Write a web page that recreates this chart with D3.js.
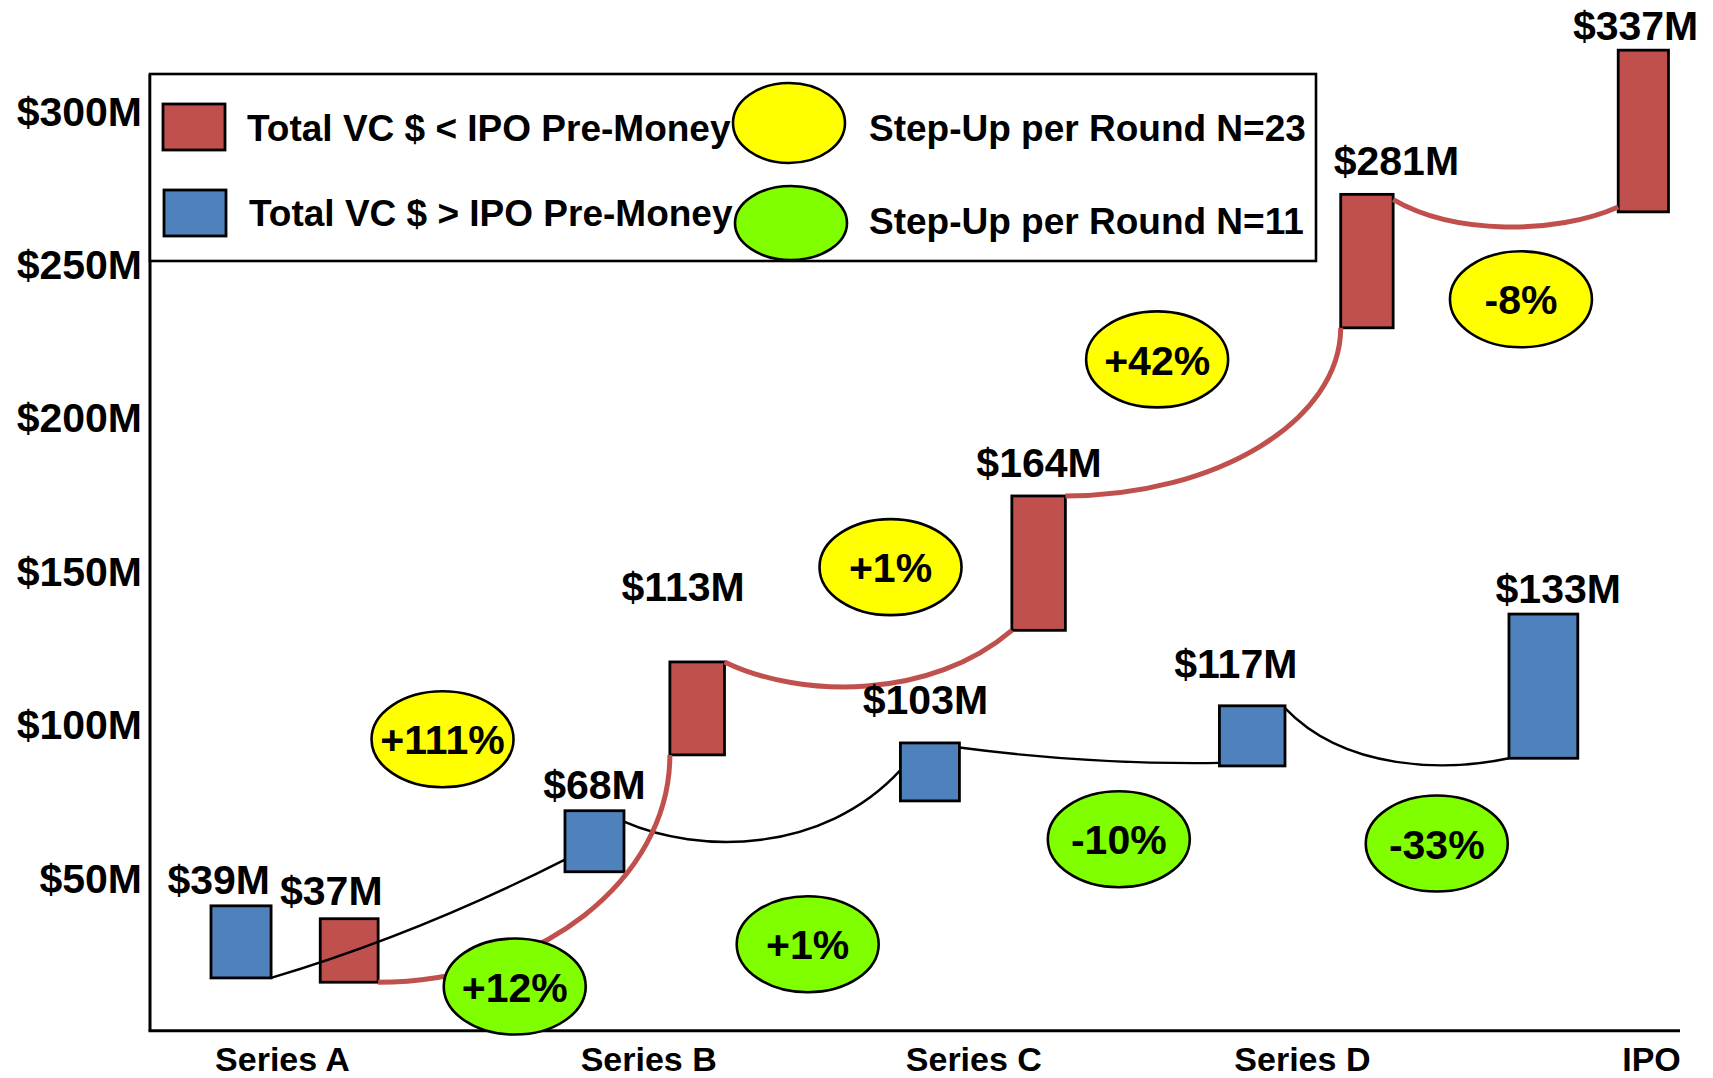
<!DOCTYPE html>
<html><head><meta charset="utf-8">
<script src="https://cdn.jsdelivr.net/npm/d3@7"></script>
<style>
html,body{margin:0;padding:0;background:#fff;}
svg{display:block;}
text{font-family:"Liberation Sans",Arial,Helvetica,sans-serif;font-weight:bold;fill:#000;}
</style>
</head><body>
<svg id="chart" width="1713" height="1078"></svg>
<script>
// ---------------- DATA ----------------
const categories = ["Series A", "Series B", "Series C", "Series D", "IPO"];
const categoryPos = [0, 1.07, 2.02, 2.98, 4];
const yTicks = [50, 100, 150, 200, 250, 300];

// Total VC $ > IPO Pre-Money (blue boxes), values in $M
const blueLabels = [39, 68, 103, 117, 133];
const blueLow    = [17.2, 51.8, 74.9, 86.3, 88.8];
const blueHigh   = [40.7, 71.7, 93.8, 105.9, 135.8];
const blueLeft   = [-0.2075, 0.8268, 1.8069, 2.7390, 3.5850];
const blueRight  = [-0.0319, 0.9992, 1.9793, 2.9306, 3.7861];
const blueLabelX = [-0.185, 0.913, 1.880, 2.787, 3.729];
const blueLabelY = [44.7, 75.6, 103.1, 114.9, 139.4];

// Total VC $ < IPO Pre-Money (red boxes)
const redLabels = [37, 113, 164, 281, 337];
const redLow    = [15.8, 89.9, 130.5, 229.1, 266.9];
const redHigh   = [36.5, 120.2, 174.3, 272.6, 319.6];
const redLeft   = [0.1117, 1.1333, 2.1325, 3.0934, 3.9042];
const redRight  = [0.2809, 1.2929, 2.2889, 3.2466, 4.0511];
const redLabelX = [0.144, 1.172, 2.212, 3.256, 3.955];
const redLabelY = [41.1, 139.9, 180.5, 279.0, 322.8];

// connectors between consecutive boxes
const blueFromFrac = [0, 0.82, 0.92, 0.96];
const blueToFrac   = [0.2, 0.53, 0.05, 0];
const blueShape    = ["bow", "sag", "bow", "sag"];
const blueDip      = [31.5, 57.5, 86.7, 84.5];
const redFromFrac  = [0, 1, 1, 0.96];
const redToFrac    = [0, 0, 0, 0.03];
const redShape     = ["arc", "sag", "arc", "sag"];
const redDip       = [0, 108, 0, 259.4];

// Step-up per round bubbles
const yellowStepUps = ["+111%", "+1%", "+42%", "-8%"];
const yellowX = [0.469, 1.778, 2.557, 3.620];
const yellowY = [95.0, 151.1, 218.8, 238.4];
const greenStepUps = ["+12%", "+1%", "-10%", "-33%"];
const greenX = [0.680, 1.536, 2.445, 3.374];
const greenY = [14.4, 28.2, 62.4, 61.0];

const legendItems = ["Total VC $ < IPO Pre-Money", "Total VC $ > IPO Pre-Money",
                     "Step-Up per Round N=23", "Step-Up per Round N=11"];

// ---------------- STYLE ----------------
const RED = "#c0504d", BLUE = "#4f81bd", YELLOW = "#ffff00", GREEN = "#80ff00";

const svg = d3.select("#chart");
const x = d3.scaleLinear().domain([0, 4]).range([282, 1651]);
const y = d3.scaleLinear().domain([0, 300]).range([1030.7, 110.3]);
const axisLeftX = 150, axisTopY = 74, axisRightX = 1680;

const blueBoxes = blueLabels.map((v, i) => ({label: v, low: blueLow[i], high: blueHigh[i],
  left: blueLeft[i], right: blueRight[i], lx: blueLabelX[i], ly: blueLabelY[i]}));
const redBoxes = redLabels.map((v, i) => ({label: v, low: redLow[i], high: redHigh[i],
  left: redLeft[i], right: redRight[i], lx: redLabelX[i], ly: redLabelY[i]}));

// axes lines
svg.append("line").attr("x1", axisLeftX).attr("x2", axisLeftX)
  .attr("y1", axisTopY).attr("y2", y(0)).attr("stroke", "#000").attr("stroke-width", 3);
svg.append("line").attr("x1", axisLeftX - 1.5).attr("x2", axisRightX)
  .attr("y1", y(0)).attr("y2", y(0)).attr("stroke", "#000").attr("stroke-width", 3);

// y tick labels
const yAxis = svg.append("g").attr("transform", `translate(${axisLeftX},0)`)
  .call(d3.axisLeft(y).tickValues(yTicks).tickSize(0).tickPadding(8).tickFormat(d => "$" + d + "M"));
yAxis.select(".domain").remove();
yAxis.selectAll("text").style("font-size", "41px").style("font-family", '"Liberation Sans",Arial,sans-serif').style("font-weight", "bold").attr("dy", "0.36em");

// x labels
const xAxis = svg.append("g").attr("transform", `translate(0,${y(0)})`)
  .call(d3.axisBottom(x).tickValues(categoryPos).tickSize(0).tickPadding(16)
    .tickFormat((d, i) => categories[i]));
xAxis.select(".domain").remove();
xAxis.selectAll("text").style("font-size", "34px").style("font-family", '"Liberation Sans",Arial,sans-serif').style("font-weight", "bold");

// boxes
function drawBoxes(data, fill) {
  svg.append("g").selectAll("rect").data(data).join("rect")
    .attr("x", d => x(d.left)).attr("width", d => x(d.right) - x(d.left))
    .attr("y", d => y(d.high)).attr("height", d => y(d.low) - y(d.high))
    .attr("fill", fill).attr("stroke", "#000").attr("stroke-width", 2.8);
}
drawBoxes(blueBoxes, BLUE);
drawBoxes(redBoxes, RED);

// connectors
function connectorPath(a, b, fromFrac, toFrac, shape, dip) {
  const x0 = x(a.right), y0 = y(a.low + fromFrac * (a.high - a.low));
  const x3 = x(b.left), y3 = y(b.low + toFrac * (b.high - b.low));
  const dx = x3 - x0;
  const p = d3.path();
  p.moveTo(x0, y0);
  if (shape === "arc") p.bezierCurveTo(x0 + 0.55 * dx, y0, x3, y3 + 0.55 * (y0 - y3), x3, y3);
  else if (shape === "sag") p.bezierCurveTo(x0 + 0.27 * dx, y(dip), x3 - 0.28 * dx, y(dip), x3, y3);
  else p.quadraticCurveTo(x0 + 0.5 * dx, y(dip), x3, y3);
  return p.toString();
}
const blueLinks = d3.range(4).map(i => connectorPath(blueBoxes[i], blueBoxes[i + 1], blueFromFrac[i], blueToFrac[i], blueShape[i], blueDip[i]));
const redLinks = d3.range(4).map(i => connectorPath(redBoxes[i], redBoxes[i + 1], redFromFrac[i], redToFrac[i], redShape[i], redDip[i]));
svg.append("g").selectAll("path").data(blueLinks).join("path")
  .attr("d", d => d).attr("fill", "none").attr("stroke", "#000").attr("stroke-width", 2.4);
svg.append("g").selectAll("path").data(redLinks).join("path")
  .attr("d", d => d).attr("fill", "none").attr("stroke", RED).attr("stroke-width", 5);

// bubbles
function drawBubbles(labels, xs, ys, fill) {
  const g = svg.append("g").selectAll("g").data(labels).join("g")
    .attr("transform", (d, i) => `translate(${x(xs[i])},${y(ys[i])})`);
  g.append("ellipse").attr("rx", 71).attr("ry", 48).attr("fill", fill)
    .attr("stroke", "#000").attr("stroke-width", 2.6);
  g.append("text").attr("text-anchor", "middle").attr("dy", "0.37em")
    .style("font-size", "41px").text(d => d);
}
drawBubbles(yellowStepUps, yellowX, yellowY, YELLOW);
drawBubbles(greenStepUps, greenX, greenY, GREEN);

// value labels
function drawLabels(data) {
  svg.append("g").selectAll("text").data(data).join("text")
    .attr("x", d => x(d.lx)).attr("y", d => y(d.ly)).attr("text-anchor", "middle")
    .style("font-size", "41px").text(d => "$" + d.label + "M");
}
drawLabels(blueBoxes);
drawLabels(redBoxes);

// legend
const lg = svg.append("g");
lg.append("rect").attr("x", axisLeftX).attr("y", axisTopY).attr("width", 1166).attr("height", 187)
  .attr("fill", "#fff").attr("stroke", "#000").attr("stroke-width", 2.6);
lg.append("rect").attr("x", 163).attr("y", 104).attr("width", 62).attr("height", 46)
  .attr("fill", RED).attr("stroke", "#000").attr("stroke-width", 2.8);
lg.append("rect").attr("x", 164).attr("y", 190).attr("width", 62).attr("height", 46)
  .attr("fill", BLUE).attr("stroke", "#000").attr("stroke-width", 2.8);
lg.append("text").attr("x", 247).attr("y", 141).style("font-size", "37px").text(legendItems[0]);
lg.append("text").attr("x", 249).attr("y", 226).style("font-size", "37px").text(legendItems[1]);
lg.append("ellipse").attr("cx", 789).attr("cy", 123).attr("rx", 56).attr("ry", 40)
  .attr("fill", YELLOW).attr("stroke", "#000").attr("stroke-width", 2.6);
lg.append("ellipse").attr("cx", 791).attr("cy", 223).attr("rx", 56).attr("ry", 37)
  .attr("fill", GREEN).attr("stroke", "#000").attr("stroke-width", 2.6);
lg.append("text").attr("x", 869).attr("y", 141).style("font-size", "37px").text(legendItems[2]);
lg.append("text").attr("x", 869).attr("y", 234).style("font-size", "37px").text(legendItems[3]);
</script>
</body></html>
